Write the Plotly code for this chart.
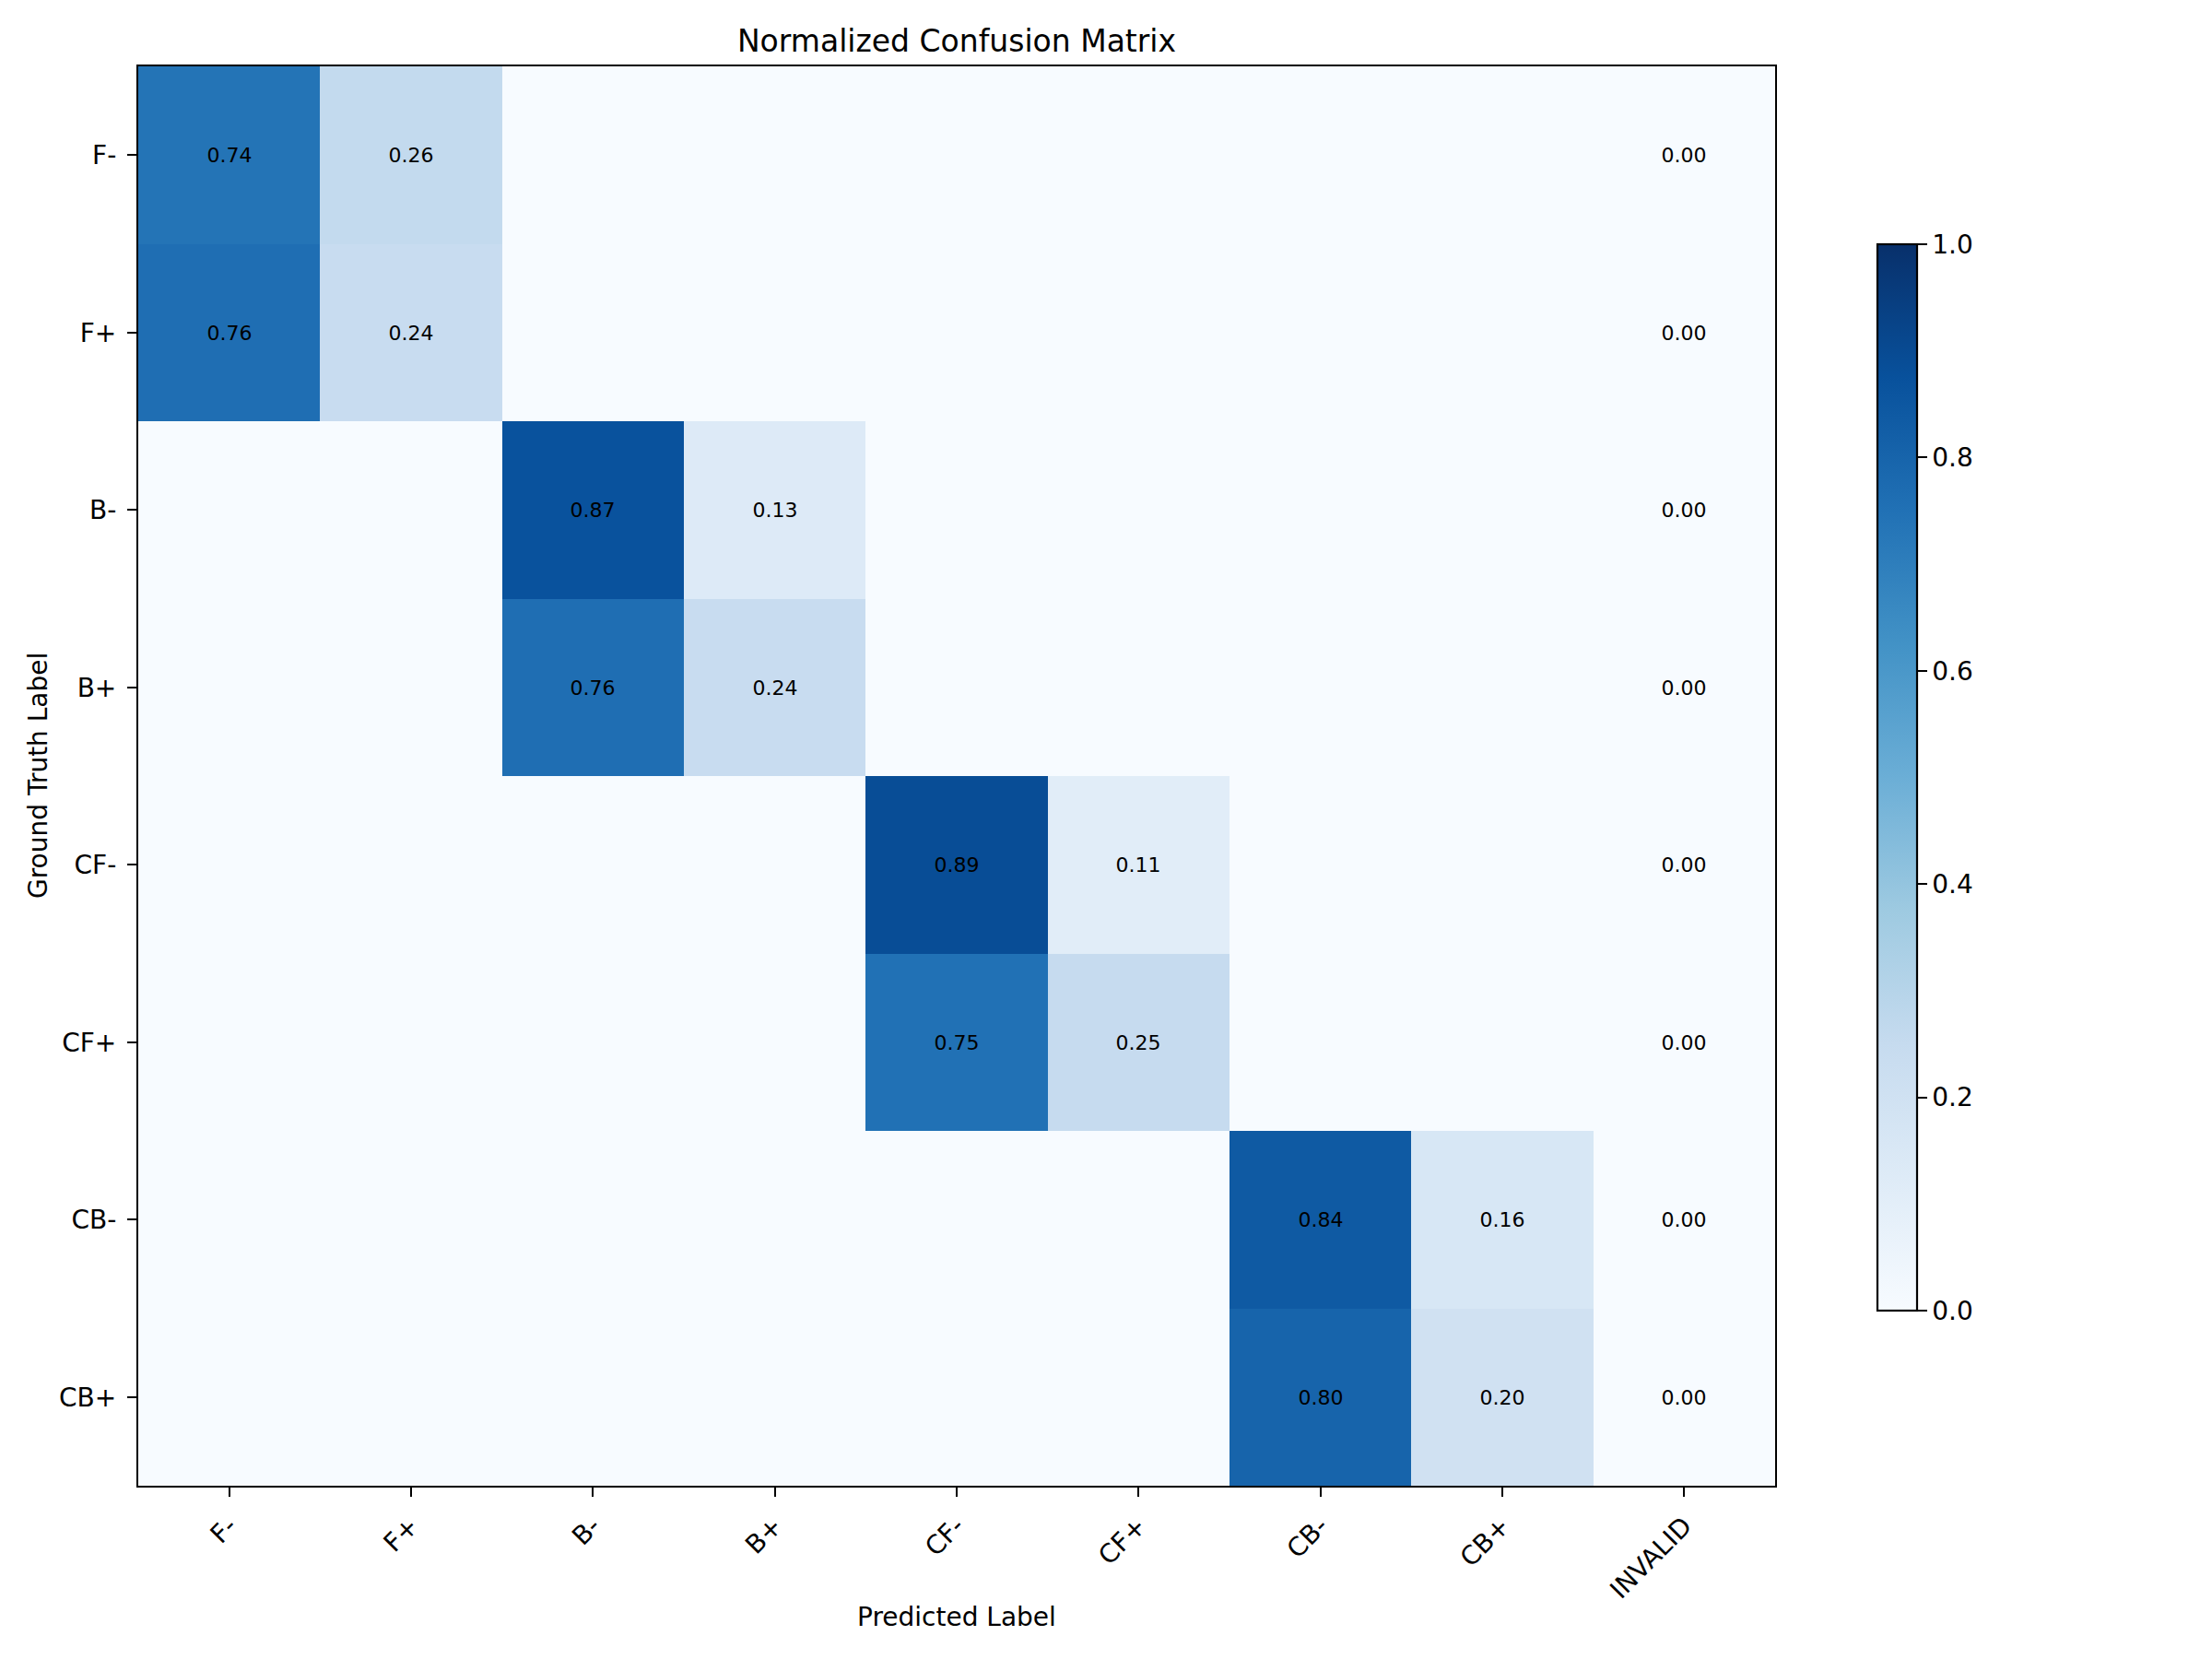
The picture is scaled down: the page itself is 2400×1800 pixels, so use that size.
import plotly.graph_objects as go

pred_labels = ["F-", "F+", "B-", "B+", "CF-", "CF+", "CB-", "CB+", "INVALID"]
true_labels = ["F-", "F+", "B-", "B+", "CF-", "CF+", "CB-", "CB+"]

row_f_minus = [0.74, 0.26, 0, 0, 0, 0, 0, 0, 0]
row_f_plus = [0.76, 0.24, 0, 0, 0, 0, 0, 0, 0]
row_b_minus = [0, 0, 0.87, 0.13, 0, 0, 0, 0, 0]
row_b_plus = [0, 0, 0.76, 0.24, 0, 0, 0, 0, 0]
row_cf_minus = [0, 0, 0, 0, 0.89, 0.11, 0, 0, 0]
row_cf_plus = [0, 0, 0, 0, 0.75, 0.25, 0, 0, 0]
row_cb_minus = [0, 0, 0, 0, 0, 0, 0.84, 0.16, 0]
row_cb_plus = [0, 0, 0, 0, 0, 0, 0.80, 0.20, 0]

matrix = [row_f_minus, row_f_plus, row_b_minus, row_b_plus,
          row_cf_minus, row_cf_plus, row_cb_minus, row_cb_plus]

cbar_ticks = [0.0, 0.2, 0.4, 0.6, 0.8, 1.0]

blues = ['rgb(247,251,255)', 'rgb(222,235,247)', 'rgb(198,219,239)',
         'rgb(158,202,225)', 'rgb(107,174,214)', 'rgb(66,146,198)',
         'rgb(33,113,181)', 'rgb(8,81,156)', 'rgb(8,48,107)']
colorscale = [[i / (len(blues) - 1), c] for i, c in enumerate(blues)]

ncols = len(pred_labels)
text = [[(f"{v:.2f}" if (v > 0 or j == ncols - 1) else "") for j, v in enumerate(row)]
        for row in matrix]

OFF = 8  # page body offset
W, H = 2400 - OFF, 1800 - OFF
L, R, T, B = 150 - OFF, 1926 - OFF, 72 - OFF, 1612 - OFF
PW, PH = R - L, B - T
FONT = "DejaVu Sans"

cb_top, cb_len, cb_left = 265 - OFF, 1157, 2037 - OFF

fig = go.Figure(go.Heatmap(
    z=matrix,
    x=list(range(ncols)),
    y=list(range(len(true_labels))),
    zmin=0, zmax=1,
    colorscale=colorscale,
    text=text,
    texttemplate="%{text}",
    textfont=dict(family=FONT, size=22, color="black"),
    hoverinfo="skip",
    colorbar=dict(
        x=(cb_left - L) / PW, xanchor="left", xpad=0,
        y=(B - (cb_top + cb_len / 2)) / PH, yanchor="middle", ypad=0,
        thickness=43, thicknessmode="pixels",
        len=cb_len, lenmode="pixels",
        outlinecolor="black", outlinewidth=2.2,
        ticks="outside", ticklen=10, tickwidth=2.2, tickcolor="black",
        tickvals=cbar_ticks, ticktext=[f"{t:.1f}" for t in cbar_ticks],
        tickfont=dict(family=FONT, size=28, color="black"),
    ),
))

fig.update_xaxes(
    range=[-0.5, ncols - 0.5],
    tickvals=list(range(ncols)), ticktext=pred_labels,
    tickangle=-45,
    ticks="outside", ticklen=10, tickwidth=2.2, tickcolor="black",
    ticklabelstandoff=4,
    showline=True, linecolor="black", linewidth=2.2, mirror=True,
    showgrid=False, zeroline=False,
    tickfont=dict(family=FONT, size=28, color="black"),
)
fig.update_yaxes(
    range=[len(true_labels) - 0.5, -0.5],
    tickvals=list(range(len(true_labels))), ticktext=true_labels,
    ticks="outside", ticklen=10, tickwidth=2.2, tickcolor="black",
    ticklabelstandoff=6,
    showline=True, linecolor="black", linewidth=2.2, mirror=True,
    showgrid=False, zeroline=False,
    tickfont=dict(family=FONT, size=28, color="black"),
)

fig.update_layout(
    width=W, height=H,
    margin=dict(l=L, r=W - R, t=T, b=H - B, autoexpand=False),
    paper_bgcolor="white", plot_bgcolor="white",
    font=dict(family=FONT, color="black"),
    title=dict(text="Normalized Confusion Matrix",
               font=dict(family=FONT, size=33, color="black"),
               xref="paper", x=0.5, xanchor="center",
               yref="container", y=1 - (44 - OFF) / H, yanchor="middle"),
    annotations=[
        dict(text="Predicted Label", xref="paper", yref="paper",
             x=0.5, y=(B - (1754 - OFF)) / PH, showarrow=False,
             xanchor="center", yanchor="middle",
             font=dict(family=FONT, size=28, color="black")),
        dict(text="Ground Truth Label", xref="paper", yref="paper",
             x=((41 - OFF) - L) / PW, y=0.5, showarrow=False, textangle=-90,
             xanchor="center", yanchor="middle",
             font=dict(family=FONT, size=28, color="black")),
    ],
)

fig.write_html("out.html")
